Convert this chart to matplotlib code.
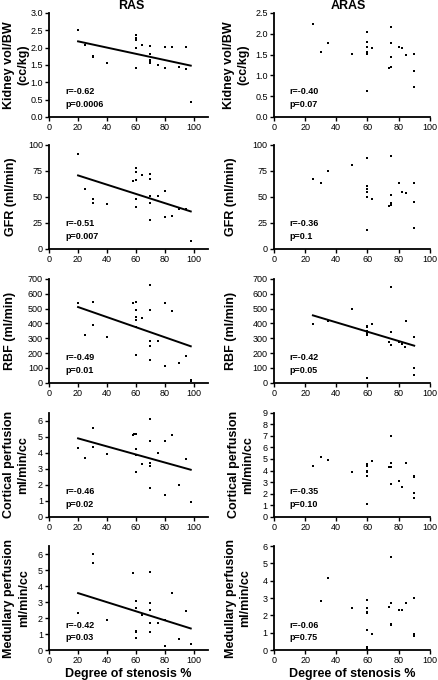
import numpy as np
import matplotlib
matplotlib.use("Agg")
import matplotlib.pyplot as plt

plt.rcParams['font.family'] = ['Liberation Sans', 'DejaVu Sans']

# RAS (left column)
ras_kid_x = [20, 25, 30, 30, 40, 60, 60, 60, 60, 60, 64, 70, 70, 70, 70, 70, 75, 80, 80, 85, 90, 95, 95, 98]
ras_kid_y = [2.50, 2.08, 1.77, 1.74, 1.55, 2.35, 2.29, 2.22, 1.98, 1.40, 2.08, 2.05, 1.82, 1.65, 1.60, 1.55,
             1.50, 2.03, 1.40, 2.03, 1.45, 2.01, 1.37, 0.42]
ras_gfr_x = [20, 25, 30, 30, 40, 58, 60, 60, 60, 60, 60, 64, 70, 70, 70, 70, 70, 75, 80, 80, 85, 90, 95, 98]
ras_gfr_y = [91, 58, 48, 44, 43.5, 65, 66, 78, 74, 48, 40, 71, 71.5, 67, 50.5, 44, 27.5, 51, 55.5, 30.5,
             31.5, 38, 38, 7.5]
ras_rbf_x = [20, 25, 30, 30, 40, 58, 60, 60, 60, 60, 60, 60, 64, 70, 70, 70, 70, 70, 75, 80, 80, 85, 90, 95, 98, 98]
ras_rbf_y = [537, 320, 542, 392, 309, 537, 544, 488, 443, 425, 376, 190, 436, 660, 488, 280, 246, 157, 280,
             537, 112, 486, 134, 183, 22, 11]
ras_cor_x = [20, 25, 30, 30, 40, 58, 59, 60, 60, 60, 60, 64, 70, 70, 70, 70, 70, 75, 80, 80, 85, 90, 95, 98]
ras_cor_y = [4.30, 3.68, 5.52, 4.39, 3.91, 5.13, 5.15, 5.20, 4.24, 3.83, 2.80, 3.31, 6.14, 4.72, 3.35, 3.15,
             1.82, 3.98, 4.72, 1.35, 5.13, 1.97, 3.62, 0.93]
ras_med_x = [20, 30, 30, 40, 58, 60, 60, 60, 60, 60, 64, 70, 70, 70, 70, 70, 75, 80, 80, 85, 90, 95, 98]
ras_med_y = [2.34, 6.00, 5.45, 1.86, 4.82, 3.04, 2.60, 1.20, 1.10, 0.78, 2.20, 4.90, 2.92, 2.53, 1.71, 1.13,
             1.71, 1.90, 0.25, 3.56, 0.70, 2.43, 0.41]

# regression lines: (x start, x end, y start, y end)
ras_fit = [(20, 98, 2.18, 1.48), (20, 98, 70.6, 36.0), (20, 98, 510, 246),
           (20, 98, 4.90, 2.94), (20, 98, 3.56, 1.35)]

# ARAS (right column)
aras_kid_x = [25, 30, 35, 50, 60, 60, 60, 60, 60, 60, 63, 74, 75, 75, 75, 75, 80, 82, 85, 90, 90, 90]
aras_kid_y = [2.23, 1.56, 1.77, 1.52, 2.05, 1.80, 1.69, 1.56, 1.52, 0.62, 1.65, 1.18, 1.20, 2.15, 1.77, 1.45,
              1.67, 1.66, 1.48, 1.52, 1.10, 0.73]
aras_gfr_x = [25, 30, 35, 50, 60, 60, 60, 60, 60, 60, 63, 74, 75, 75, 75, 75, 80, 82, 85, 90, 90, 90]
aras_gfr_y = [67, 63, 75, 81, 87.4, 60, 57.4, 55, 50.3, 17.7, 48, 41.3, 42, 89.4, 52, 44, 63, 54.5, 53.5,
              63.5, 45, 20]
aras_rbf_x = [25, 35, 50, 60, 60, 60, 60, 60, 60, 63, 74, 75, 75, 75, 80, 82, 84, 85, 90, 90, 90]
aras_rbf_y = [396, 414, 497, 385, 373, 347, 335, 324, 34, 396, 273, 642, 340, 253, 273, 264, 242, 418, 306,
              100, 56]
aras_cor_x = [25, 30, 35, 50, 60, 60, 60, 60, 60, 60, 63, 74, 75, 75, 75, 75, 80, 82, 85, 90, 90, 90, 90]
aras_cor_y = [4.43, 5.14, 4.91, 3.86, 4.57, 4.43, 4.00, 3.86, 3.49, 1.14, 4.80, 4.34, 4.34, 4.63, 7.00, 2.86,
              3.14, 2.57, 4.66, 3.55, 3.45, 2.06, 1.66]
aras_med_x = [30, 35, 50, 60, 60, 60, 60, 60, 60, 60, 63, 74, 75, 75, 75, 75, 80, 82, 85, 90, 90, 90]
aras_med_y = [2.82, 4.13, 2.42, 2.90, 2.44, 2.19, 2.13, 1.18, 0.15, 0.06, 0.95, 2.48, 5.39, 2.72, 1.52, 1.47,
              2.32, 2.32, 2.72, 2.99, 0.91, 0.82]

aras_fit = [None, None, (25, 90, 454, 250), None, None]

ras_stats = ["r=-0.62\np=0.0006", "r=-0.51\np=0.007", "r=-0.49\np=0.01", "r=-0.46\np=0.02", "r=-0.42\np=0.03"]
aras_stats = ["r=-0.40\np=0.07", "r=-0.36\np=0.1", "r=-0.42\np=0.05", "r=-0.35\np=0.10", "r=-0.06\np=0.75"]

ylabels = ["Kidney vol/BW\n(cc/kg)", "GFR (ml/min)", "RBF (ml/min)",
           "Cortical perfusion\nml/min/cc", "Medullary perfusion\nml/min/cc"]
ras_yticks = [np.arange(0, 3.01, 0.5), [0, 25, 50, 75, 100], range(0, 701, 100), range(0, 7), range(0, 7)]
aras_yticks = [np.arange(0, 2.51, 0.5), [0, 25, 50, 75, 100], range(0, 701, 100), range(0, 10), range(0, 7)]
ras_ylim = [3.0, 100, 700, 6.5, 6.5]
aras_ylim = [2.5, 100, 700, 9, 6]
ytick_fmt = ["{:.1f}", "{:g}", "{:g}", "{:g}", "{:g}"]

ras_data = [(ras_kid_x, ras_kid_y), (ras_gfr_x, ras_gfr_y), (ras_rbf_x, ras_rbf_y),
            (ras_cor_x, ras_cor_y), (ras_med_x, ras_med_y)]
aras_data = [(aras_kid_x, aras_kid_y), (aras_gfr_x, aras_gfr_y), (aras_rbf_x, aras_rbf_y),
             (aras_cor_x, aras_cor_y), (aras_med_x, aras_med_y)]

ras_lab_x = [-0.125, -0.20, -0.21, -0.125, -0.12]
aras_lab_x = [-0.155, -0.24, -0.24, -0.125, -0.145]

fig = plt.figure(figsize=(4.39, 6.80), dpi=100)
bottoms = [0.828, 0.634, 0.437, 0.240, 0.044]


def draw(ax, xs, ys, fit, stats, yticks, ytop, fmt, xmax, label, lab_x, last):
    ax.scatter(xs, ys, marker='s', s=3.5, color='black', linewidths=0, zorder=3)
    if fit is not None:
        x0, x1, y0, y1 = fit
        ax.plot([x0, x1], [y0, y1], color='black', lw=1.4)
    ax.set_xlim(0, xmax)
    ax.set_ylim(0, ytop)
    ax.set_xticks([0, 20, 40, 60, 80, 100])
    ax.set_yticks(list(yticks))
    ax.set_yticklabels([fmt.format(v) for v in yticks])
    for s in ['top', 'right']:
        ax.spines[s].set_visible(False)
    for s in ['left', 'bottom']:
        ax.spines[s].set_linewidth(1.3)
    ax.tick_params(direction='out', length=3, width=1.0, labelsize=6.5, pad=1.5)
    ax.set_ylabel(label, fontsize=9, fontweight='bold', linespacing=1.3)
    ax.yaxis.set_label_coords(lab_x, 0.5)
    ax.text(0.10, 0.18, stats, transform=ax.transAxes, fontsize=6.5, fontweight='bold',
            va='center', ha='left', linespacing=1.5)
    if last:
        ax.set_xlabel("Degree of stenosis %", fontsize=9, fontweight='bold', labelpad=2)


for i in range(5):
    axl = fig.add_axes([0.112, bottoms[i], 0.362, 0.153])
    draw(axl, ras_data[i][0], ras_data[i][1], ras_fit[i], ras_stats[i], ras_yticks[i], ras_ylim[i],
         ytick_fmt[i], 110, ylabels[i], ras_lab_x[i], i == 4)
    axr = fig.add_axes([0.624, bottoms[i], 0.355, 0.153])
    draw(axr, aras_data[i][0], aras_data[i][1], aras_fit[i], aras_stats[i], aras_yticks[i], aras_ylim[i],
         ytick_fmt[i], 100, ylabels[i], aras_lab_x[i], i == 4)

fig.text(0.298, 0.991, "RAS", ha='center', va='center', fontsize=9, fontweight='bold')
fig.text(0.793, 0.991, "ARAS", ha='center', va='center', fontsize=9, fontweight='bold')

fig.savefig("out.png", dpi=100)
